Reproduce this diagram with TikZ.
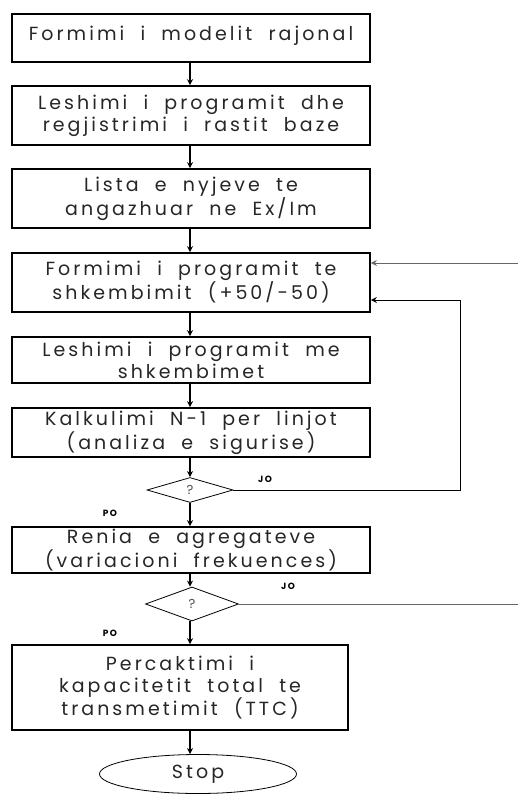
\documentclass[tikz,border=0pt]{standalone}
\usepackage{fontspec}
\setmainfont{Poppins}[LetterSpace=16,WordSpace=2]
\usetikzlibrary{shapes.geometric,arrows.meta}
\begin{document}
\begin{tikzpicture}[x=1pt,y=1pt,
  box/.style={draw, line width=1.6pt, minimum width=358pt, align=center, inner sep=0pt, font=\fontsize{19}{22}\selectfont, text=black!85},
  dia/.style={draw, diamond, line width=0.8pt, inner sep=0pt, font=\fontsize{13}{13}\selectfont, text=black!70},
  conn/.style={line width=1.2pt, -{Stealth[length=6pt,width=6pt]}},
  fb/.style={line width=1pt, -{Stealth[length=6pt,width=6pt]}},
  lbl/.style={font=\fontsize{9}{9}\selectfont\bfseries, inner sep=0pt}]
\useasboundingbox (0,0) rectangle (518,-795);
\node[box, minimum height=48pt, text depth=10pt] (b1) at (191,-38) {Formimi i modelit rajonal};
\node[box, minimum height=59pt] (b2) at (191,-115.5) {Leshimi i programit dhe\\regjistrimi i rastit baze};
\node[box, minimum height=59pt] (b3) at (191,-198.5) {Lista e nyjeve te\\angazhuar ne Ex/Im};
\node[box, minimum height=59pt] (b4) at (191,-282.5) {Formimi i programit te\\shkembimit (+50/-50)};
\node[box, minimum height=46pt] (b5) at (191,-360) {Leshimi i programit me\\shkembimet};
\node[box, minimum height=49pt] (b6) at (191,-432.5) {Kalkulimi N-1 per linjot\\(analiza e sigurise)};
\node[dia, minimum width=86pt, minimum height=25pt] (d1) at (190,-490) {?};
\node[box, minimum height=46pt] (b7) at (191,-550) {Renia e agregateve\\(variacioni frekuences)};
\node[dia, minimum width=93pt, minimum height=34pt] (d2) at (192,-604) {?};
\node[box, minimum width=336pt, minimum height=85pt] (b8) at (180,-687.5) {Percaktimi i\\kapacitetit total te\\transmetimit (TTC)};
\node[draw, ellipse, line width=0.8pt, minimum width=197pt, minimum height=39pt, font=\fontsize{19}{19}\selectfont, text=black!85] (stop) at (198,-774) {Stop};
\node[lbl] (jo1) at (265,-479) {JO};
\node[lbl] (po1) at (110,-513) {PO};
\node[lbl] (jo2) at (288,-586) {JO};
\node[lbl] (po2) at (110,-633) {PO};
\coordinate (r1) at (460,-300);
\coordinate (r2) at (522,-263);
\draw[conn] (b1.south -| d1.center) -- (b2.north -| d1.center);
\draw[conn] (b2.south -| d1.center) -- (b3.north -| d1.center);
\draw[conn] (b3.south -| d1.center) -- (b4.north -| d1.center);
\draw[conn] (b4.south -| d1.center) -- (b5.north -| d1.center);
\draw[conn] (b5.south -| d1.center) -- (b6.north -| d1.center);
\draw[conn] (b6.south -| d1.center) -- (d1.north);
\draw[conn] (d1.south) -- (b7.north -| d1.center);
\draw[conn] (b7.south -| d1.center) -- (d2.north -| d1.center);
\draw[conn] (d2.south -| d1.center) -- (b8.north -| d1.center);
\draw[conn] (b8.south -| d1.center) -- (stop.north -| d1.center);
\draw[fb] (d1.east) -| (r1) -- (b4.east |- r1);
\draw[fb, draw=black!60] (d2.east) -| (r2) -- (b4.east |- r2);
\end{tikzpicture}
\end{document}
